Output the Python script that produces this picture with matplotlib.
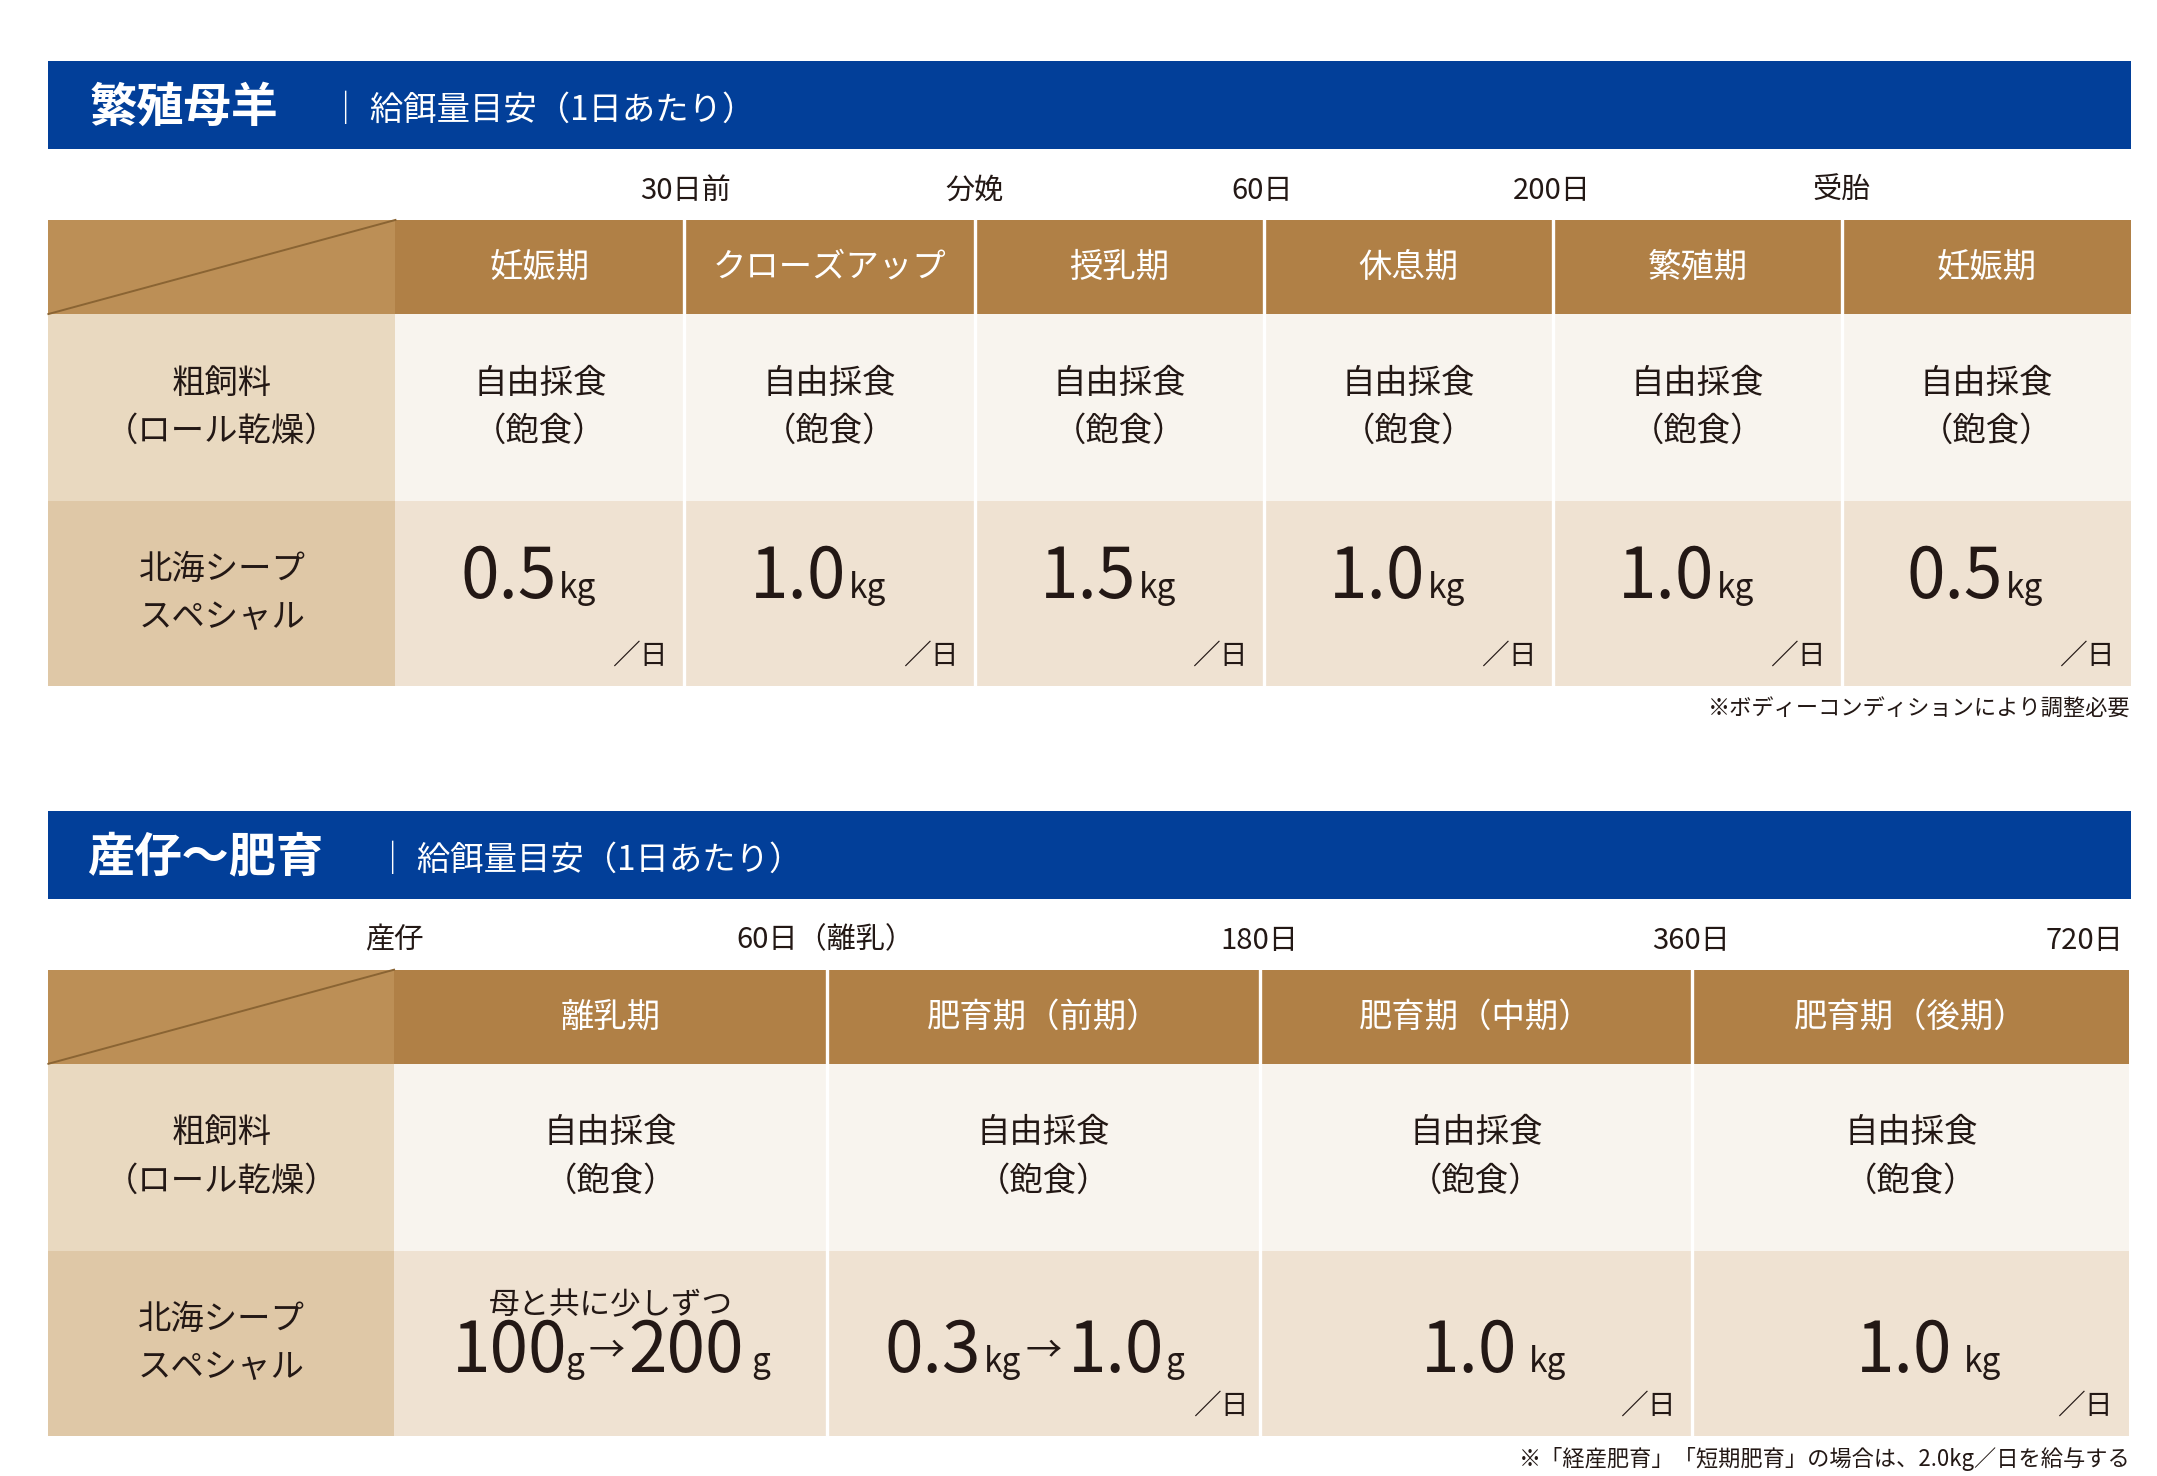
import matplotlib
matplotlib.use("Agg")
import matplotlib.pyplot as plt
from matplotlib.patches import Rectangle

plt.rcParams['font.family'] = ['Noto Sans CJK JP', 'DejaVu Sans']

# ---- data ----
ewe_title = "繁殖母羊"
ewe_timeline = ["30日前", "分娩", "60日", "200日", "受胎"]
ewe_stages = ["妊娠期", "クローズアップ", "授乳期", "休息期", "繁殖期", "妊娠期"]
ewe_roughage = ["自由採食\n（飽食）"] * 6
ewe_special = ["0.5", "1.0", "1.5", "1.0", "1.0", "0.5"]
ewe_note = "※ボディーコンディションにより調整必要"

lamb_title = "産仔～肥育"
lamb_timeline = ["産仔", "60日（離乳）", "180日", "360日", "720日"]
lamb_stages = ["離乳期", "肥育期（前期）", "肥育期（中期）", "肥育期（後期）"]
lamb_roughage = ["自由採食\n（飽食）"] * 4
lamb_note = "※「経産肥育」「短期肥育」の場合は、2.0kg／日を給与する"
row_labels = ["粗飼料\n（ロール乾燥）", "北海シープ\nスペシャル"]
subtitle = "｜ 給餌量目安（1日あたり）"

BLUE = "#023F99"; HDR = "#B08046"; HDR_L = "#BC8F56"
R1L = "#E9D9C0"; R1 = "#F8F4EE"; R2L = "#DFC8A7"; R2 = "#EFE2D2"; TXT = "#231815"

fig = plt.figure(figsize=(2157/200, 1476/200), dpi=200)
ax = fig.add_axes([0, 0, 1, 1])
ax.set_xlim(0, 1560); ax.set_ylim(1067, 0); ax.axis('off')

def rect(x0, y0, x1, y1, c):
    ax.add_patch(Rectangle((x0, y0), x1-x0, y1-y0, color=c, lw=0))

def block(top, title, title_x, sub_x, timeline, tl_x, stages, cols, roughage, specials, note, tl_ha):
    rect(35, top, 1541, top+64, BLUE)
    ax.text(title_x, top+34, title, color='white', fontsize=17, fontweight='bold', va='center')
    ax.text(sub_x, top+36, subtitle, color='white', fontsize=12, va='center')
    for t, x, ha in zip(timeline, tl_x, tl_ha):
        ax.text(x, top+94, t, color=TXT, fontsize=10.5, ha=ha, va='center')
    h0 = top+115; h1 = h0+68; r1 = h1+135; r2 = r1+134
    left = cols[0]
    rect(35, h0, left, h1, HDR_L)
    ax.plot([35, left], [h1, h0], color='#8A6433', lw=0.7)
    rect(35, h1, left, r1, R1L); rect(35, r1, left, r2, R2L)
    ax.text((35+left)/2, (h1+r1)/2, row_labels[0], ha='center', va='center', fontsize=12, color=TXT, linespacing=1.5)
    ax.text((35+left)/2, (r1+r2)/2, row_labels[1], ha='center', va='center', fontsize=12, color=TXT, linespacing=1.5)
    for i, s in enumerate(stages):
        a, b = cols[i], cols[i+1]
        rect(a, h0, b, h1, HDR); rect(a, h1, b, r1, R1); rect(a, r1, b, r2, R2)
        if i > 0:
            ax.plot([a, a], [h0, r2], color='white', lw=1.2)
        cx = (a+b)/2
        ax.text(cx, (h0+h1)/2, s, ha='center', va='center', fontsize=12, color='white')
        ax.text(cx, (h1+r1)/2, roughage[i], ha='center', va='center', fontsize=12, color=TXT, linespacing=1.5)
        specials(i, a, b, r1, r2)
    ax.text(1541, r2+17, note, ha='right', va='center', fontsize=8, color=TXT)

def ewe_special_draw(i, a, b, r1, r2):
    cx = (a+b)/2
    ax.text(cx+12, r1+70, ewe_special[i], ha='right', va='baseline', fontsize=25, color=TXT)
    ax.text(cx+14, r1+70, "kg", ha='left', va='baseline', fontsize=12, color=TXT)
    ax.text(b-12, r1+112, "／日", ha='right', va='center', fontsize=10, color=TXT)

block(44, ewe_title, 65, 238, ewe_timeline, [496, 705, 913, 1122, 1332],
      ewe_stages, [286, 495, 705, 914, 1123, 1332, 1541], ewe_roughage, ewe_special_draw, ewe_note,
      ['center']*5)

def lamb_special_draw(i, a, b, r1, r2):
    cx = (a+b)/2
    y = r1+88
    if i == 0:
        ax.text(cx, r1+40, "母と共に少しずつ", ha='center', va='center', fontsize=11, color=TXT)
        ax.text(cx-115, y, "100", ha='left', va='baseline', fontsize=25, color=TXT)
        ax.text(cx-33, y, "g", ha='left', va='baseline', fontsize=12, color=TXT)
        ax.text(cx-3, y-8, "→", ha='center', va='baseline', fontsize=13, color=TXT)
        ax.text(cx+13, y, "200", ha='left', va='baseline', fontsize=25, color=TXT)
        ax.text(cx+102, y, "g", ha='left', va='baseline', fontsize=12, color=TXT)
    elif i == 1:
        ax.text(cx-45, y, "0.3", ha='right', va='baseline', fontsize=25, color=TXT)
        ax.text(cx-43, y, "kg", ha='left', va='baseline', fontsize=12, color=TXT)
        ax.text(cx, y-8, "→", ha='center', va='baseline', fontsize=13, color=TXT)
        ax.text(cx+18, y, "1.0", ha='left', va='baseline', fontsize=25, color=TXT)
        ax.text(cx+88, y, "g", ha='left', va='baseline', fontsize=12, color=TXT)
        ax.text(b-8, r1+112, "／日", ha='right', va='center', fontsize=10, color=TXT)
    else:
        ax.text(cx+30, y, "1.0", ha='right', va='baseline', fontsize=25, color=TXT)
        ax.text(cx+38, y, "kg", ha='left', va='baseline', fontsize=12, color=TXT)
        ax.text(b-12, r1+112, "／日", ha='right', va='center', fontsize=10, color=TXT)

block(586, lamb_title, 63, 272, lamb_timeline, [285, 597, 911, 1223, 1536],
      lamb_stages, [285, 598, 911, 1224, 1540], lamb_roughage, lamb_special_draw, lamb_note,
      ['center']*4 + ['right'])

fig.savefig("out.png", dpi=200, facecolor='white')
